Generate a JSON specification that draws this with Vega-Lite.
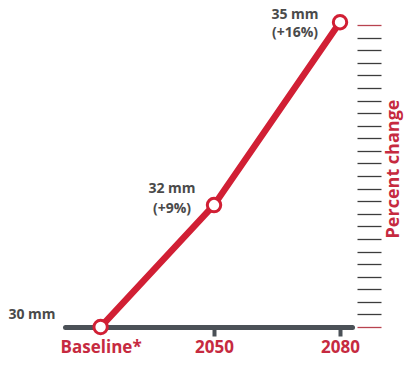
{
  "$schema": "https://vega.github.io/schema/vega-lite/v6.json",
  "width": 287,
  "height": 317,
  "autosize": {"type": "none"},
  "padding": {"left": 65, "top": 10, "right": 54, "bottom": 42},
  "background": "white",
  "config": {"view": {"stroke": null}, "font": "Open Sans"},
  "data": {"values": [
    {"period": "Baseline*", "year": 2023, "mm": 30, "label": "30 mm"},
    {"period": "2050", "year": 2050, "mm": 32, "label": "32 mm\n(+9%)"},
    {"period": "2080", "year": 2080, "mm": 35, "label": "35 mm\n(+16%)"}
  ]},
  "encoding": {
    "x": {"field": "year", "type": "quantitative",
      "scale": {"domain": [2014.52, 2082.85], "nice": false, "zero": false},
      "axis": {"title": null, "values": [2023, 2050, 2080], "format": "d",
        "labelExpr": "datum.value == 2023 ? 'Baseline*' : datum.label",
        "domainColor": "#4b5157", "domainWidth": 5, "domainCap": "round",
        "tickColor": {"condition": {"test": "datum.value == 2023", "value": "transparent"}, "value": "#4b5157"},
        "tickWidth": 4, "tickSize": 9,
        "labelColor": "#c62a40", "labelFont": "Open Sans", "labelFontWeight": "bold", "labelFontSize": 17,
        "labelPadding": 3, "grid": false, "labelFlush": false}},
    "y": {"field": "mm", "type": "quantitative",
      "scale": {"domain": [30, 35.2], "nice": false, "zero": false},
      "axis": {"orient": "right", "offset": 5, "domain": false, "labels": false, "grid": false,
        "values": [30, 30.2064, 30.4128, 30.6192, 30.8256, 31.032, 31.2384, 31.4448, 31.6512, 31.8576, 32.064, 32.2704, 32.4768, 32.6832, 32.8896, 33.096, 33.3024, 33.5088, 33.7152, 33.9216, 34.128, 34.3344, 34.5408, 34.7472, 34.9536],
        "tickSize": 24, "tickWidth": 1.3,
        "tickColor": {"condition": {"test": "datum.value < 30.01 || datum.value > 34.9", "value": "#b8434f"}, "value": "#3c3c3c"},
        "title": "Percent change", "titleAngle": 270, "titleColor": "#c62a40", "titleFont": "Open Sans",
        "titleFontWeight": "bold", "titleFontSize": 18, "titlePadding": 21}}
  },
  "layer": [
    {"mark": {"type": "line", "color": "#d11f34", "strokeWidth": 6.5}},
    {"mark": {"type": "point", "filled": true, "fill": "white", "stroke": "#d11f34", "strokeWidth": 3, "size": 180, "opacity": 1}},
    {"transform": [{"filter": "datum.year == 2080"}],
      "mark": {"type": "text", "lineBreak": "\n", "align": "center", "baseline": "middle", "dx": -45, "dy": -7, "fontWeight": "bold", "fontSize": 14, "color": "#4a4a4a", "lineHeight": 18},
      "encoding": {"text": {"field": "label"}}},
    {"transform": [{"filter": "datum.year == 2050"}],
      "mark": {"type": "text", "lineBreak": "\n", "align": "center", "baseline": "middle", "dx": -42, "dy": -16, "fontWeight": "bold", "fontSize": 14, "color": "#4a4a4a", "lineHeight": 20},
      "encoding": {"text": {"field": "label"}}},
    {"transform": [{"filter": "datum.year == 2023"}],
      "mark": {"type": "text", "align": "right", "baseline": "middle", "dx": -45, "dy": -12, "fontWeight": "bold", "fontSize": 14, "color": "#4a4a4a"},
      "encoding": {"text": {"field": "label"}}}
  ]
}
